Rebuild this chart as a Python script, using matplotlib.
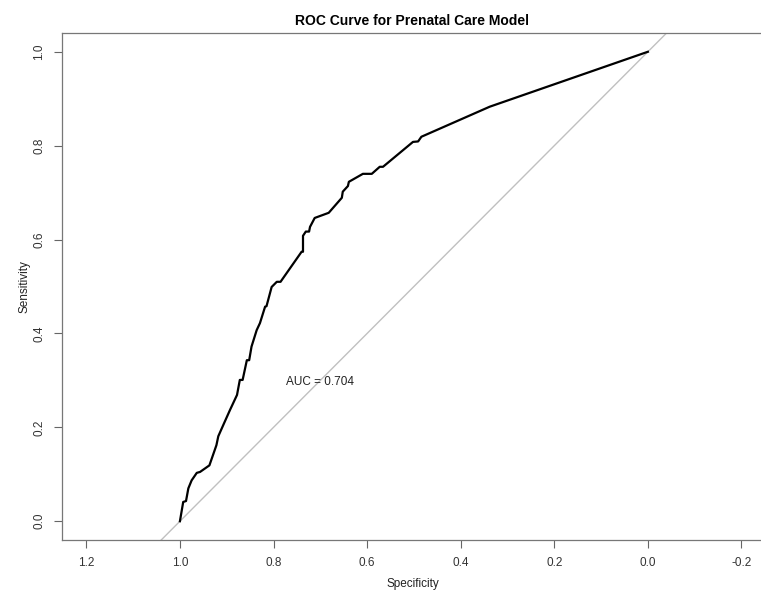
import matplotlib
matplotlib.use('Agg')
import matplotlib.pyplot as plt

plt.rcParams['font.family'] = ['Liberation Sans', 'DejaVu Sans']

# ROC curve points (specificity, sensitivity)
specificity = [1.000, 0.993, 0.987, 0.982, 0.975, 0.964, 0.957, 0.937, 0.922, 0.918,
               0.906, 0.893, 0.878, 0.872, 0.866, 0.857, 0.852, 0.847, 0.836, 0.829,
               0.818, 0.815, 0.804, 0.793, 0.785, 0.740, 0.737, 0.737, 0.731, 0.724,
               0.722, 0.712, 0.682, 0.654, 0.652, 0.641, 0.639, 0.609, 0.590, 0.573,
               0.566, 0.502, 0.491, 0.484, 0.338, 0.003, 0.000]
sensitivity = [0.000, 0.041, 0.043, 0.070, 0.087, 0.103, 0.105, 0.119, 0.162, 0.181,
               0.208, 0.237, 0.269, 0.301, 0.301, 0.343, 0.343, 0.372, 0.407, 0.422,
               0.457, 0.458, 0.499, 0.510, 0.510, 0.574, 0.574, 0.608, 0.617, 0.617,
               0.627, 0.646, 0.657, 0.689, 0.702, 0.714, 0.723, 0.740, 0.740, 0.755,
               0.755, 0.808, 0.809, 0.819, 0.883, 0.999, 1.000]
auc_text = 'AUC = 0.704'
xticks = [1.2, 1.0, 0.8, 0.6, 0.4, 0.2, 0.0, -0.2]
yticks = [0.0, 0.2, 0.4, 0.6, 0.8, 1.0]

W, H = 761, 591
fig = plt.figure(figsize=(W / 100, H / 100), dpi=100)
ax = fig.add_axes([62 / W, (H - 540) / H, (763 - 62) / W, (540 - 33) / H])

ax.set_xlim(1.252, -0.246)
ax.set_ylim(-0.04, 1.04)

# chance line
ax.plot([1.2, -0.2], [-0.2, 1.2], color='#c0c0c0', lw=1, zorder=1)
ax.plot(specificity, sensitivity, color='black', lw=1.6, zorder=2)

ax.text(0.70, 0.296, auc_text, ha='center', va='center', fontsize=8.5, color='#222222')

ax.set_xticks(xticks)
ax.set_xticklabels(['%.1f' % t for t in xticks])
ax.set_yticks(yticks)
ax.set_yticklabels(['%.1f' % t for t in yticks], rotation=90, va='center')
ax.tick_params(axis='both', direction='out', length=6, width=0.8, color='#666666',
               labelsize=8.5, labelcolor='#333333', pad=6)
for s in ax.spines.values():
    s.set_color('#777777')
    s.set_linewidth(0.9)

ax.set_xlabel('Specificity', fontsize=8.5, color='#222222', labelpad=7)
ax.set_ylabel('Sensitivity', fontsize=8.5, color='#222222', labelpad=2)
ax.set_title('ROC Curve for Prenatal Care Model', fontsize=10, fontweight='bold', pad=6)

fig.savefig('out.png', dpi=100)
